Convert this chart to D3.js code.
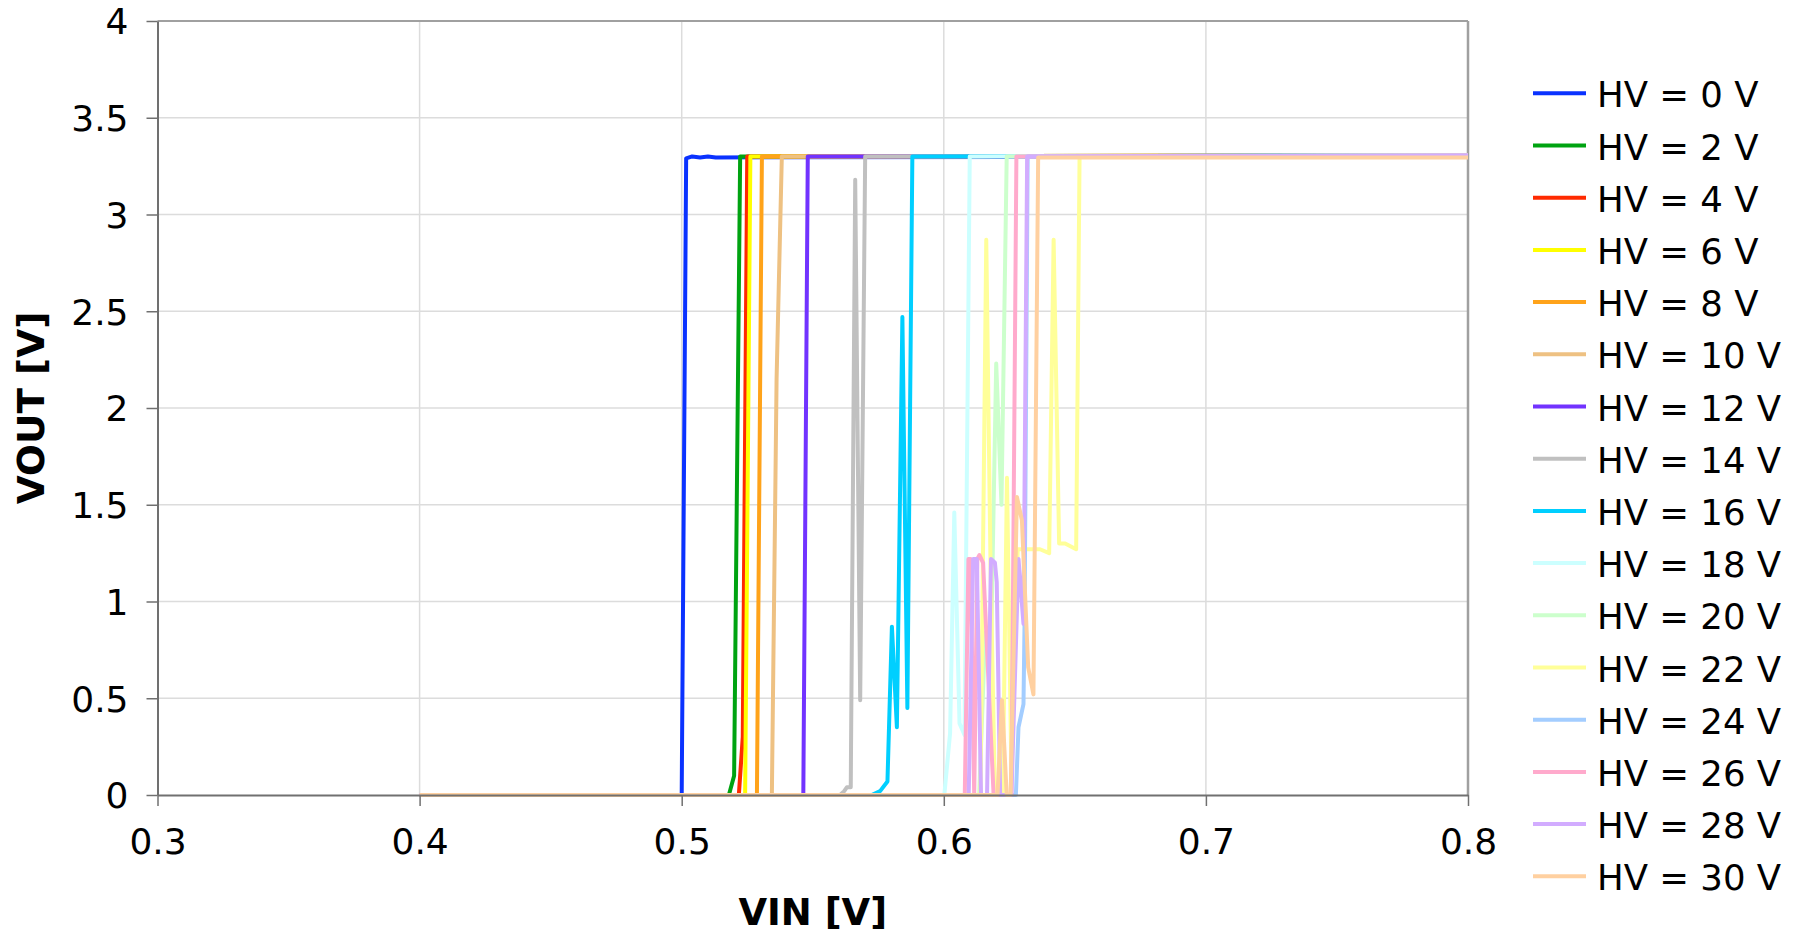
<!DOCTYPE html>
<html>
<head>
<meta charset="utf-8">
<script src="https://cdn.jsdelivr.net/npm/d3@7"></script>
<style>
  html, body { margin: 0; padding: 0; background: #ffffff; }
  svg { display: block; }
</style>
</head>
<body>
<svg id="chart" width="1801" height="935"></svg>
<script>
// ---------------- DATA ----------------
const hvLabels = ["HV = 0 V","HV = 2 V","HV = 4 V","HV = 6 V","HV = 8 V","HV = 10 V","HV = 12 V","HV = 14 V",
                  "HV = 16 V","HV = 18 V","HV = 20 V","HV = 22 V","HV = 24 V","HV = 26 V","HV = 28 V","HV = 30 V"];
const hvColors = ["#0a32ff","#00a311","#ff2a00","#ffff00","#ffa31a","#eec182","#7233ff","#c0c0c0",
                  "#00cfff","#ccffff","#ccffcc","#ffff99","#a3cdff","#ffaacc","#d2acff","#ffd0a0"];
const xTicks = [0.3, 0.4, 0.5, 0.6, 0.7, 0.8];
const yTicks = [0, 0.5, 1, 1.5, 2, 2.5, 3, 3.5, 4];

// [VIN, VOUT] pairs per series
const hv0  = [[0.4,0],[0.5,0],[0.5017,3.29],[0.504,3.30],[0.507,3.295],[0.510,3.30],[0.513,3.295],[0.8,3.30]];
const hv2  = [[0.4,0],[0.518,0],[0.520,0.1],[0.5223,3.3],[0.8,3.305]];
const hv4  = [[0.4,0],[0.5218,0],[0.5233,0.3],[0.5250,3.3],[0.8,3.305]];
const hv6  = [[0.4,0],[0.5242,0],[0.5262,3.3],[0.8,3.305]];
const hv8  = [[0.4,0],[0.5287,0],[0.5306,3.3],[0.8,3.305]];
const hv10 = [[0.4,0],[0.5344,0],[0.5362,2.15],[0.5382,3.3],[0.8,3.305]];
const hv12 = [[0.4,0],[0.5464,0],[0.5481,3.3],[0.8,3.305]];
const hv14 = [[0.4,0],[0.5604,0],[0.562,0.02],[0.563,0.04],[0.5645,0.04],[0.5662,3.18],[0.5681,0.49],[0.570,3.3],[0.8,3.305]];
const hv16 = [[0.4,0],[0.5725,0],[0.5757,0.02],[0.5785,0.07],[0.5802,0.87],[0.5821,0.35],[0.5842,2.47],[0.5861,0.45],[0.588,3.3],[0.8,3.305]];
const hv18 = [[0.4,0],[0.6002,0],[0.6024,0.32],[0.6040,1.46],[0.6060,0.37],[0.6079,0.31],[0.6099,3.3],[0.8,3.305]];
const hv20 = [[0.4,0],[0.6135,0],[0.6158,0.84],[0.6178,0.6],[0.6200,2.23],[0.6220,1.50],[0.6240,3.3],[0.8,3.305]];
const hv22 = [[0.4,0],[0.6140,0],[0.6162,2.87],[0.6178,1.21],[0.6195,0],[0.6225,0],[0.6241,1.64],[0.6258,0.1],[0.6282,1.27],
              [0.6323,1.27],[0.6367,1.27],[0.6402,1.25],[0.6419,2.87],[0.6440,1.30],[0.6463,1.30],[0.6505,1.27],[0.6518,3.3],[0.8,3.305]];
const hv24 = [[0.4,0],[0.6275,0],[0.6285,0.35],[0.6304,0.47],[0.6308,0.88],[0.6320,3.3],[0.8,3.305]];
const hv26 = [[0.4,0],[0.6080,0],[0.6094,1.22],[0.6102,1.22],[0.6116,0],[0.6128,1.22],[0.6136,1.24],[0.6150,1.20],[0.6190,0],
              [0.6258,0],[0.6277,3.3],[0.8,3.305]];
const hv28 = [[0.4,0],[0.6095,0],[0.6112,1.22],[0.6126,1.22],[0.6142,0],[0.6165,0],[0.6180,1.22],[0.6195,1.20],[0.6202,1.10],
              [0.6215,0],[0.6258,0],[0.6285,1.22],[0.6304,0.885],[0.6318,3.3],[0.8,3.305]];
const hv30 = [[0.4,0],[0.6205,0],[0.6222,0.49],[0.6240,0],[0.6255,0],[0.6279,1.54],[0.6298,1.42],[0.6322,0.66],[0.6342,0.52],
              [0.6360,3.295],[0.8,3.295]];

const seriesData = [hv0,hv2,hv4,hv6,hv8,hv10,hv12,hv14,hv16,hv18,hv20,hv22,hv24,hv26,hv28,hv30];

// ---------------- LAYOUT ----------------
const svg = d3.select("#chart");
const plot = { left: 157.5, right: 1468, top: 21, bottom: 795 };
const font = "'DejaVu Sans', Verdana, sans-serif";

svg.append("rect").attr("width", 1801).attr("height", 935).attr("fill", "#ffffff");

const x = d3.scaleLinear().domain([0.3, 0.8]).range([plot.left, plot.right]);
const y = d3.scaleLinear().domain([0, 4]).range([plot.bottom, plot.top]);

// gridlines
const grid = svg.append("g");
grid.selectAll("line.vg").data(xTicks.slice(1, -1)).enter().append("line")
  .attr("x1", d => x(d)).attr("x2", d => x(d))
  .attr("y1", plot.top).attr("y2", plot.bottom)
  .attr("stroke", "#dcdcdc").attr("stroke-width", 1.5);
grid.selectAll("line.hg").data(yTicks.slice(1, -1)).enter().append("line")
  .attr("x1", plot.left).attr("x2", plot.right)
  .attr("y1", d => y(d)).attr("y2", d => y(d))
  .attr("stroke", "#dcdcdc").attr("stroke-width", 1.5);

// frame top / right
svg.append("line").attr("x1", plot.left).attr("x2", plot.right).attr("y1", plot.top).attr("y2", plot.top)
  .attr("stroke", "#a0a0a0").attr("stroke-width", 2);
svg.append("line").attr("x1", plot.right).attr("x2", plot.right).attr("y1", plot.top).attr("y2", plot.bottom)
  .attr("stroke", "#a0a0a0").attr("stroke-width", 2.5);

// series
const line = d3.line().x(d => x(d[0])).y(d => y(d[1]));
const lines = svg.append("g");
seriesData.forEach((pts, i) => {
  lines.append("path")
    .attr("d", line(pts))
    .attr("fill", "none")
    .attr("stroke", hvColors[i])
    .attr("stroke-width", 4)
    .attr("stroke-linejoin", "round")
    .attr("stroke-linecap", "butt");
});

// axes
const xAxis = d3.axisBottom(x).tickValues(xTicks).tickFormat(d => String(d)).tickSizeInner(11).tickSizeOuter(0).tickPadding(22);
const yAxis = d3.axisLeft(y).tickValues(yTicks).tickFormat(d => String(d)).tickSizeInner(11).tickSizeOuter(0).tickPadding(18);

const gx = svg.append("g").attr("transform", `translate(0,${plot.bottom})`).call(xAxis);
const gy = svg.append("g").attr("transform", `translate(${plot.left},0)`).call(yAxis);
[gx, gy].forEach(g => {
  g.select(".domain").attr("stroke", "#707070").attr("stroke-width", 2);
  g.selectAll(".tick line").attr("stroke", "#707070").attr("stroke-width", 1.5);
  g.selectAll(".tick text").attr("font-family", font).attr("font-size", 36).attr("fill", "#000");
});
gx.selectAll(".tick text").attr("dy", "0.71em");
gy.selectAll(".tick text").attr("dy", "0.36em");

// axis titles
svg.append("text")
  .attr("x", (plot.left + plot.right) / 2).attr("y", 912)
  .attr("text-anchor", "middle").attr("dominant-baseline", "central")
  .attr("font-family", font).attr("font-weight", "bold").attr("font-size", 37)
  .text("VIN [V]");
svg.append("text")
  .attr("transform", `translate(31,${(plot.top + plot.bottom) / 2}) rotate(-90)`)
  .attr("text-anchor", "middle").attr("dominant-baseline", "central")
  .attr("font-family", font).attr("font-weight", "bold").attr("font-size", 37.5)
  .text("VOUT [V]");

// legend
const legend = svg.append("g");
const legY0 = 93.3, legStep = 52.2;
hvLabels.forEach((lab, i) => {
  const yy = legY0 + i * legStep;
  legend.append("line").attr("x1", 1533).attr("x2", 1586).attr("y1", yy).attr("y2", yy)
    .attr("stroke", hvColors[i]).attr("stroke-width", 4);
  legend.append("text").attr("x", 1597).attr("y", yy + 1.5)
    .attr("dominant-baseline", "central")
    .attr("font-family", font).attr("font-size", 35.5).attr("fill", "#000")
    .text(lab);
});
</script>
</body>
</html>
